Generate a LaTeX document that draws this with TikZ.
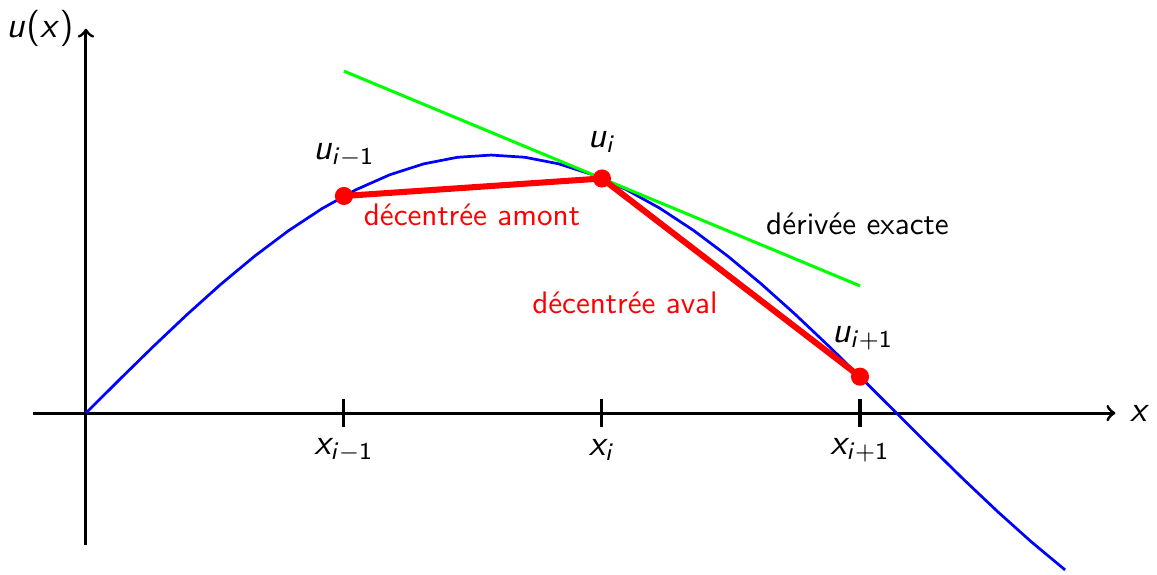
\documentclass[tikz,border=0pt]{standalone}
\usepackage{tikz}
\usetikzlibrary{positioning}
\renewcommand{\familydefault}{\sfdefault}
% sans-serif math letters
\DeclareSymbolFont{sfletters}{OT1}{cmss}{m}{sl}
\DeclareSymbolFont{sfdigits}{OT1}{cmss}{m}{n}
\DeclareMathSymbol{u}{\mathalpha}{sfletters}{`u}
\DeclareMathSymbol{x}{\mathalpha}{sfletters}{`x}
\DeclareMathSymbol{i}{\mathalpha}{sfletters}{`i}
\DeclareMathSymbol{1}{\mathalpha}{sfdigits}{`1}
\DeclareMathSymbol{+}{\mathbin}{sfdigits}{`+}
\DeclareMathSymbol{(}{\mathopen}{sfdigits}{`(}
\DeclareMathSymbol{)}{\mathclose}{sfdigits}{`)}

\begin{document}
\begin{tikzpicture}[x=3cm, y=3cm,
    axis/.style={->, line width=1pt},
    tick/.style={line width=1pt},
    dot/.style={circle, fill=red, inner sep=0pt, minimum size=6pt},
    lbl/.style={font=\large},
    txt/.style={font=\fontsize{10.3pt}{12pt}\selectfont}]
      \useasboundingbox (-0.333,-0.624) rectangle (4.151,1.601);

      % Axes
      \coordinate (xstart) at (-0.205,0);
      \coordinate (xend) at (3.99,0);
      \coordinate (ystart) at (0,-0.51);
      \coordinate (yend) at (0,1.49);
      \draw[axis] (xstart) -- (xend);
      \draw[axis] (ystart) -- (yend);
      \node[lbl] (xlab) at (4.085,0) {$x$};
      \node[lbl] (ylab) at (-0.178,1.492) {$u(x)$};

      % Ticks
      \foreach \k/\t in {1/{i-1}, 2/i, 3/{i+1}} {
        \draw[tick] (\k,-0.054) -- (\k,0.054);
        \node[lbl] (x\k) at (\k,-0.143) {$x_{\t}$};
      }

      % Exact function
      \draw[blue, line width=0.9pt] plot[domain=0:3.795, samples=30] (\x,{sin(\x r)});

      % Exact derivative
      \draw[green, line width=1pt] (1,{sin(2 r)-cos(2 r)}) -- (3,{sin(2 r)+cos(2 r)});
      \node[txt] (exact) at (2.99,0.733) {dérivée exacte};

      % Points
      \node[dot] (um) at (1,{sin(1 r)}) {};
      \node[dot] (ui) at (2,{sin(2 r)}) {};
      \node[dot] (up) at (3,{sin(3 r)}) {};
      \draw[red, line width=2pt] (um.center) -- (ui.center) -- (up.center);

      % Labels
      \node[lbl] (lm) at (1,1.0) {$u_{i-1}$};
      \node[lbl] (li) at (2,1.05) {$u_i$};
      \node[lbl] (lp) at (3.01,0.29) {$u_{i+1}$};
      \node[txt, red] (amont) at (1.496,0.767) {décentrée amont};
      \node[txt, red] (aval) at (2.089,0.426) {décentrée aval};
    \end{tikzpicture}
\end{document}
